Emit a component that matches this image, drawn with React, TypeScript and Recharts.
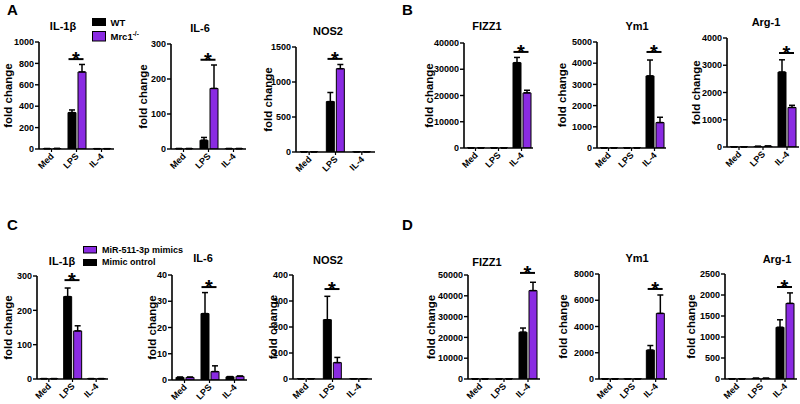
import React from "react";
import { BarChart, Bar, XAxis, YAxis, ErrorBar, ReferenceDot } from "recharts";

const FONT = 'Arial, "Liberation Sans", Helvetica, sans-serif';
const PURPLE = "#8a2be2";

const cats = ["Med", "LPS", "IL-4"];

// A: WT vs Mrc1-/-
const aIl1bWt = [3, 340, 2];
const aIl1bWtSd = [1, 25, 1];
const aIl1bKo = [4, 720, 2];
const aIl1bKoSd = [1, 70, 1];
const aIl6Wt = [1, 25, 1];
const aIl6WtSd = [0.3, 8, 0.3];
const aIl6Ko = [1, 173, 1];
const aIl6KoSd = [0.3, 67, 0.3];
const aNosWt = [2, 720, 2];
const aNosWtSd = [0, 130, 0];
const aNosKo = [2, 1190, 2];
const aNosKoSd = [0, 60, 0];

// B: WT vs Mrc1-/-
const bFizzWt = [5, 5, 32500];
const bFizzWtSd = [0, 0, 2000];
const bFizzKo = [5, 5, 21000];
const bFizzKoSd = [0, 0, 1000];
const bYmWt = [2, 2, 3400];
const bYmWtSd = [0, 0, 750];
const bYmKo = [2, 2, 1200];
const bYmKoSd = [0, 0, 250];
const bArgWt = [3, 20, 2750];
const bArgWtSd = [0, 5, 450];
const bArgKo = [3, 30, 1450];
const bArgKoSd = [0, 5, 80];

// C: mimic control vs miR-511-3p mimics
const cIl1bCtl = [1, 240, 1];
const cIl1bCtlSd = [0, 25, 0];
const cIl1bMir = [1, 140, 1];
const cIl1bMirSd = [0, 15, 0];
const cIl6Ctl = [1, 25.3, 1.2];
const cIl6CtlSd = [0.1, 8, 0.1];
const cIl6Mir = [1, 3.2, 1.4];
const cIl6MirSd = [0.1, 2.2, 0.1];
const cNosCtl = [1, 228, 1];
const cNosCtlSd = [0, 90, 0];
const cNosMir = [1, 63, 1];
const cNosMirSd = [0, 20, 0];

// D: mimic control vs miR-511-3p mimics
const dFizzCtl = [5, 5, 22500];
const dFizzCtlSd = [0, 0, 2000];
const dFizzMir = [5, 5, 42500];
const dFizzMirSd = [0, 0, 4000];
const dYmCtl = [2, 2, 2200];
const dYmCtlSd = [0, 0, 350];
const dYmMir = [2, 2, 5000];
const dYmMirSd = [0, 0, 1400];
const dArgCtl = [2, 15, 1230];
const dArgCtlSd = [0, 3, 180];
const dArgMir = [2, 15, 1800];
const dArgMirSd = [0, 3, 250];

// y ticks and significance marks
const ticksAIl1b = [0, 200, 400, 600, 800, 1000];
const ticksAIl6 = [0, 100, 200, 300];
const ticksANos = [0, 500, 1000, 1500];
const ticksBFizz = [0, 10000, 20000, 30000, 40000];
const ticksBYm = [0, 1000, 2000, 3000, 4000, 5000];
const ticksBArg = [0, 1000, 2000, 3000, 4000];
const ticksCIl1b = [0, 100, 200, 300];
const ticksCIl6 = [0, 10, 20, 30, 40];
const ticksCNos = [0, 100, 200, 300, 400];
const ticksDFizz = [0, 10000, 20000, 30000, 40000, 50000];
const ticksDYm = [0, 2000, 4000, 6000, 8000];
const ticksDArg = [0, 500, 1000, 1500, 2000, 2500];

const sigCat = ["LPS", "LPS", "LPS", "IL-4", "IL-4", "IL-4", "LPS", "LPS", "LPS", "IL-4", "IL-4", "IL-4"];
const sigLevel = [840, 255, 1330, 36600, 4530, 3450, 288, 35.4, 346, 51000, 6860, 2190];

const titles = ["IL-1β", "IL-6", "NOS2", "FIZZ1", "Ym1", "Arg-1", "IL-1β", "IL-6", "NOS2", "FIZZ1", "Ym1", "Arg-1"];

// layout: axis x, axis end, top tick y, zero y, y-label distance, title x, title baseline
const frames = [
  { x0: 39, x1: 114, yTop: 42, yBot: 149, gap: 31, tx: 63, ty: 30 },
  { x0: 171, x1: 246, yTop: 44, yBot: 149, gap: 28, tx: 200, ty: 32 },
  { x0: 296, x1: 375, yTop: 47, yBot: 152, gap: 28, tx: 328, ty: 35 },
  { x0: 464, x1: 533, yTop: 43, yBot: 148, gap: 35, tx: 487, ty: 30 },
  { x0: 597, x1: 666, yTop: 42, yBot: 148, gap: 35, tx: 637, ty: 30 },
  { x0: 727, x1: 799, yTop: 38, yBot: 147, gap: 31, tx: 766, ty: 26 },
  { x0: 37, x1: 108, yTop: 276, yBot: 379, gap: 29, tx: 62, ty: 265 },
  { x0: 172, x1: 247, yTop: 275, yBot: 380, gap: 20, tx: 203, ty: 262 },
  { x0: 293, x1: 372, yTop: 275, yBot: 379, gap: 20, tx: 328, ty: 264 },
  { x0: 468, x1: 540, yTop: 275, yBot: 379, gap: 37, tx: 487, ty: 266 },
  { x0: 599, x1: 667, yTop: 274, yBot: 379, gap: 36, tx: 637, ty: 262 },
  { x0: 725, x1: 797, yTop: 274, yBot: 379, gap: 34, tx: 777, ty: 263 },
];

const series = [
  [aIl1bWt, aIl1bWtSd, aIl1bKo, aIl1bKoSd, ticksAIl1b],
  [aIl6Wt, aIl6WtSd, aIl6Ko, aIl6KoSd, ticksAIl6],
  [aNosWt, aNosWtSd, aNosKo, aNosKoSd, ticksANos],
  [bFizzWt, bFizzWtSd, bFizzKo, bFizzKoSd, ticksBFizz],
  [bYmWt, bYmWtSd, bYmKo, bYmKoSd, ticksBYm],
  [bArgWt, bArgWtSd, bArgKo, bArgKoSd, ticksBArg],
  [cIl1bCtl, cIl1bCtlSd, cIl1bMir, cIl1bMirSd, ticksCIl1b],
  [cIl6Ctl, cIl6CtlSd, cIl6Mir, cIl6MirSd, ticksCIl6],
  [cNosCtl, cNosCtlSd, cNosMir, cNosMirSd, ticksCNos],
  [dFizzCtl, dFizzCtlSd, dFizzMir, dFizzMirSd, ticksDFizz],
  [dYmCtl, dYmCtlSd, dYmMir, dYmMirSd, ticksDYm],
  [dArgCtl, dArgCtlSd, dArgMir, dArgMirSd, ticksDArg],
];

const RotTick = (props: any) => {
  const { x, y, payload } = props;
  return (
    <text
      x={x}
      y={y}
      transform={`rotate(-45 ${x} ${y})`}
      textAnchor="end"
      dy="0.45em"
      fontSize={9}
      fontWeight="bold"
      fontFamily={FONT}
      fill="#000"
    >
      {payload.value}
    </text>
  );
};

const SigMark = (props: any) => {
  const { cx, cy } = props;
  if (cx == null || cy == null) return null;
  return (
    <g>
      <line x1={cx - 8} x2={cx + 7} y1={cy} y2={cy} stroke="#000" strokeWidth={2} />
      <text x={cx - 0.5} y={cy + 7} textAnchor="middle" fontSize={20} fontWeight="bold" fontFamily={FONT} fill="#000">
        *
      </text>
    </g>
  );
};

function MiniBar({ idx }: { idx: number }) {
  const f = frames[idx];
  const [blk, blkSd, pur, purSd, ticks] = series[idx];
  const data = cats.map((c, i) => ({
    cat: c,
    black: blk[i],
    purple: pur[i],
    blackErr: [0, blkSd[i]],
    purpleErr: [0, purSd[i]],
  }));
  const W = f.x1 - f.x0 + 56;
  const H = f.yBot - f.yTop + 60;
  const top = ticks[ticks.length - 1];
  const yLabel = (p: any) => {
    const vb = p.viewBox || {};
    const cx = vb.x + vb.width - f.gap;
    const cy = vb.y + vb.height / 2;
    return (
      <text
        x={cx}
        y={cy}
        transform={`rotate(-90 ${cx} ${cy})`}
        textAnchor="middle"
        dominantBaseline="central"
        fontSize={11.5}
        fontWeight="bold"
        fontFamily={FONT}
        fill="#000"
      >
        fold change
      </text>
    );
  };
  return (
    <div style={{ position: "absolute", left: f.x0 - 50, top: f.yTop - 20 }}>
      <BarChart width={W} height={H} data={data} margin={{ top: 20, right: 6, left: 0, bottom: 0 }} barSize={8} barGap={2}>
        <XAxis
          dataKey="cat"
          height={40}
          interval={0}
          tick={<RotTick />}
          tickSize={3}
          tickMargin={2}
          axisLine={{ stroke: "#000", strokeWidth: 1.6 }}
          tickLine={{ stroke: "#000", strokeWidth: 1.2 }}
        />
        <YAxis
          width={50}
          domain={[0, top]}
          ticks={ticks}
          interval={0}
          allowDataOverflow
          tickSize={4}
          tickMargin={1}
          axisLine={{ stroke: "#000", strokeWidth: 1.6 }}
          tickLine={{ stroke: "#000", strokeWidth: 1.4 }}
          tick={{ fontSize: 9, fontWeight: "bold", fill: "#000", fontFamily: FONT }}
          label={yLabel}
        />
        <Bar dataKey="black" fill="#000" stroke="#000" strokeWidth={1} isAnimationActive={false}>
          <ErrorBar dataKey="blackErr" width={3} stroke="#000" strokeWidth={1.5} direction="y" />
        </Bar>
        <Bar dataKey="purple" fill={PURPLE} stroke="#000" strokeWidth={1} isAnimationActive={false}>
          <ErrorBar dataKey="purpleErr" width={3} stroke="#000" strokeWidth={1.5} direction="y" />
        </Bar>
        <ReferenceDot x={sigCat[idx]} y={sigLevel[idx]} r={0} ifOverflow="visible" shape={<SigMark />} />
      </BarChart>
    </div>
  );
}

const txt = { fontFamily: FONT, fontWeight: "bold" as const, fill: "#000" };

export default function App() {
  return (
    <div style={{ position: "absolute", left: 0, top: 0, width: 800, height: 404, background: "#fff", overflow: "hidden" }}>
      {frames.map((_, i) => (
        <MiniBar key={i} idx={i} />
      ))}
      <svg width={800} height={404} style={{ position: "absolute", left: 0, top: 0, pointerEvents: "none" }}>
        <text x={7} y={15} fontSize={15} {...txt}>A</text>
        <text x={402} y={15} fontSize={15} {...txt}>B</text>
        <text x={7} y={230} fontSize={15} {...txt}>C</text>
        <text x={402} y={230} fontSize={15} {...txt}>D</text>
        {frames.map((f, i) => (
          <text key={i} x={f.tx} y={f.ty} textAnchor="middle" fontSize={11} {...txt}>
            {titles[i]}
          </text>
        ))}
        {/* legend A */}
        <rect x={92} y={18} width={14} height={8} fill="#000" />
        <rect x={92.5} y={31.5} width={13} height={9.5} fill={PURPLE} stroke="#000" />
        <text x={110.5} y={25.5} fontSize={9.5} {...txt}>WT</text>
        <text x={110.5} y={39.5} fontSize={9.5} {...txt}>
          Mrc1<tspan fontSize={6.5} dy={-4}>-/-</tspan>
        </text>
        {/* legend C */}
        <rect x={83.5} y={246.5} width={13} height={6.5} fill={PURPLE} stroke="#000" />
        <rect x={83} y={259} width={14} height={7} fill="#000" />
        <text x={102} y={253} fontSize={9} {...txt}>MiR-511-3p mimics</text>
        <text x={102} y={265} fontSize={9} {...txt}>Mimic ontrol</text>
      </svg>
    </div>
  );
}
